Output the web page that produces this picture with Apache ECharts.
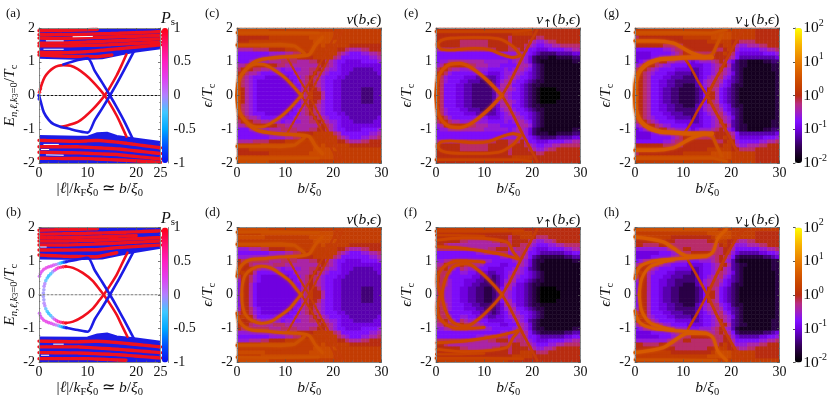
<!DOCTYPE html>
<html>
<head>
<meta charset="utf-8">
<title>vortex bound states</title>
<script src="https://cdn.jsdelivr.net/npm/echarts@6/dist/echarts.min.js"></script>
<style>html,body{margin:0;padding:0;background:#fff}#main{width:830px;height:399px}</style>
</head>
<body>
<div id="main"></div>
<script>
// tick labels
var psTicks = [-1, -0.5, 0, 0.5, 1];
var nuTicks = [-2, -1, 0, 1, 2];

// one char per cell = log10(nu) level, see cellLevels. rows run from eps=2 down to eps=0, mirrored below
// 36 cells per row, b from 0 to 30, grouped per 5 units of b
var cellLevels = '0123456789abcdefghijk';
var nuC = [
 'cccccc ccbbbb bbbbbb bbbbbb bbbbbb bbbbbb',
 'cccccc cccccc cccccc cccccc bbbbbb bbbbbb',
 'aaaaaa aabbbb bbbbbb cccccc bbbbbb bbbbbb',
 'aaabbb bbbbbb bbbbbb bccccc cbbbbb bbbbbb',
 'bbbbbb cccccc ccbbbb bbbcbb bbbbaa aaaaaa',
 '888899 99aaaa bbbbbb bbbbbb baa988 899aaa',
 '666666 667777 8899aa bbbbbb b98766 677889',
 '666666 666777 899aaa abbbbb 986666 666778',
 '666777 778889 999888 99aa98 766555 566667',
 '889aaa aaaa99 888888 889a98 765555 555555',
 '9aaa99 887776 777788 99a987 765554 444455',
 'aa9887 666666 667888 9a9876 665544 444445',
 'a98766 655555 566789 a98766 655444 444444',
 'a98765 555555 556789 a98766 554444 444444',
 'b98765 555555 556689 a98766 554444 444444',
 'ba8765 555555 555689 aa9766 554444 433344',
 'ca8765 555555 555589 baa866 554444 433344'
];
var nuD = [
 'cccccc ccbbbb bbbbbb bbbbbb bbbbbb bbbbbb',
 'bbbbbb cccccc cccccc cccccc bbbbbb bbbbbb',
 'cccccc cbbbbb bbbbbb cccccc bbbbbb bbbbbb',
 'bbbbbb bbbbbb bbbbbb bccccc cbbbbb bbbbbb',
 'bbbbbb cccccc ccbbbb bbbcbb bbbbaa aaaaaa',
 '777888 99aaaa bbbbbb bbbbbb baa988 899aaa',
 '666666 667777 8899aa bbbbbb b98766 677889',
 '777777 777777 899aaa abbbbb 986666 666778',
 'a99999 998889 999888 99aa98 766555 566667',
 'aaa988 888999 888888 889a98 765555 555555',
 'baaa98 777776 777788 99a987 765554 444455',
 'abaa86 666666 667888 9a9876 665544 444445',
 '9aa976 555555 566789 a98766 655444 444444',
 '7aa976 555555 556789 a98766 554444 444444',
 '6aa865 555555 556689 a98766 554444 444444',
 '6aa865 555555 555689 aa9766 554444 433344',
 '6aa865 555555 555589 baa866 554444 433344'
];
var nuE = [
 'aaaaaa aaaaaa aaaaaa aaaaaa aaaaaa aaaaaa',
 'aaaaaa aaaaaa aaaaaa abbbbb aaaaaa aaaaaa',
 'aaaaaa aaaaaa aaaaaa 9aaaaa a99aaa aaaaaa',
 'aaaaaa 999999 9aaaaa 9aaaa9 877899 aaaaaa',
 'aaaaaa 999999 9aaaaa 9aaa98 766778 899999',
 '888888 999999 999aaa 999a86 655566 667788',
 '666666 666666 666677 778876 543333 444455',
 '666666 666666 666666 678875 322211 222233',
 '677888 888888 777777 678875 321111 111122',
 '78aaaa aa9988 877766 667887 432111 111111',
 '9aa988 777777 766667 678876 432111 111111',
 'aa9766 666666 655567 788765 432111 111111',
 'a97666 655544 444567 887665 432111 111111',
 'a97666 554443 334578 876654 322111 111111',
 'a96665 544333 334588 866543 221111 111111',
 'b96665 544333 334688 876543 210000 111111',
 'b96665 544333 334788 766543 210000 011111'
];
var nuF = [
 'bbbbbb bbbbbb bbbbbb aaaaaa aaaaaa aaaaaa',
 'aaaaaa aaaaaa aaaaaa abbbbb aaaaaa aaaaaa',
 'aaaaaa aaaaaa aaaaaa 9aabbb a999aa aaaaaa',
 'aaaaaa 998888 8899aa 9aaaa9 877889 aaaaaa',
 'aa9888 888888 888899 9aa998 766677 889999',
 '999999 998888 899aaa 889987 655566 667788',
 '666666 666677 889999 778986 654444 445566',
 '666666 666666 666677 678986 432222 223344',
 '778899 997777 776666 678875 322111 111122',
 '88a999 a99887 666655 667875 321111 111111',
 '99a876 987766 655556 678764 321111 111111',
 'a99766 776655 544556 788765 432111 111111',
 'a98666 666554 443456 887665 432111 111111',
 'a98766 655544 333457 886654 322111 111111',
 '998766 655443 333458 875543 221111 111111',
 '897766 554433 223468 865543 210000 111111',
 '897766 554433 223478 765543 210000 011111'
];
var nuG = [
 'bbbbbb bbbbbb bbbbbb bbbbbb bbbbbb aaaaaa',
 'cccccc cccccc cccccc cccccc bbbbbb aaaaaa',
 '9aaaaa aaaaaa bbbbbb bccccc bbbbbb aaaaaa',
 'bbbbbb bbaaaa aaaaaa bbbbbb aa9999 aaaaaa',
 'aaaaaa a99999 aaaaaa aaaabb a87788 899aaa',
 '666666 677899 aaaaaa aa99ab a76666 677889',
 '555566 666789 aa9999 99aaba 965555 556667',
 '555566 777899 a99999 9aaaa9 864444 444445',
 '567899 aa8877 765677 789a97 532211 112233',
 '78aaa9 877666 655556 6789a8 432211 111122',
 '9aa987 666655 554456 678a87 432111 111122',
 'aa9876 665544 443456 678987 532111 111112',
 'aa9866 655444 333456 788976 432111 111112',
 'aa9866 554433 333457 889865 432111 111112',
 'ba9866 554433 222457 899765 322111 111112',
 'ba9866 544332 222346 a98654 321111 111112',
 'ca9866 544332 222346 aa8654 321111 111112'
];
var nuH = [
 'bbbbbb bbbbbb bbbbbb bbbbbb bbbbbb bbbbbb',
 'bbbbbb bbbbbb bbbbbb cccccc bbbbbb aaaaaa',
 'bbbbbb bbbaaa aaaaaa abcccc bbbbbb aaaaaa',
 'aaaaaa aaaa99 999999 aaabba a98899 aaaaaa',
 'aa9999 aa9999 999999 999aba 877788 899aaa',
 '777777 778899 aa9999 9999aa 866666 677889',
 '555555 666778 99aaaa a999a9 754444 455667',
 '555566 666789 aa9988 889a98 632222 223345',
 '678899 aa8877 766677 789a87 421111 111122',
 '89aa99 877666 655556 6789a8 432211 111122',
 'aaa987 666655 554456 678a87 432111 111122',
 'aba876 665544 443456 678987 532111 111112',
 '9aa866 655444 333456 788976 432111 111112',
 '7aa866 554433 333457 889865 432111 111112',
 '6aa866 554433 222457 899765 322111 111112',
 '6aa866 544332 222346 a98654 321111 111112',
 '6aa866 544332 222346 aa8654 321111 111112'
];

// ridges of the maps, [b, eps], each also drawn mirrored in eps
var cArc = [[0,0],[.25,.35],[.9,.6],[2.4,.85],[3.5,.98],[4.6,1.05],[6.5,1.1],[9.4,1.14],[13,1.17],[15,1.22],[16.3,1.5],[17.7,1.72]];
var cLobe = [[2.5,.86],[4,.93],[5.5,.92],[7.5,.78],[9.5,.58],[11,.38],[12.5,.14],[13.4,0]];
var cDiagA = [[13.4,0],[15,-.38],[16.5,-.75],[18,-1.15],[19.5,-1.55],[21,-1.95]];
var cDiagB = [[10.5,1.1],[12,.72],[13.5,.35],[15,0],[16.5,-.42],[18.5,-.95],[20.5,-1.5],[22,-1.95]];
var cBandTop = [[0,1.86],[8,1.87],[17,1.85]];
var cBandMid = [[0,1.5],[5,1.5],[9,1.52],[12,1.47],[14,1.25]];
var dArcOuter = [[0,.55],[.5,.78],[1.5,.95],[3,1.05],[6,1.08],[9,1.12],[13,1.15],[15,1.22],[16.3,1.5],[17.7,1.72]];
var dArcInner = [[1,0],[1.1,.28],[1.7,.58],[3,.76],[5,.85],[7,.8],[9,.62],[11,.4],[12.5,.14],[13.3,0]];
var eLobe = [[0,0],[.2,.35],[.7,.62],[1.6,.8],[3,.93],[5,.95],[7,.85],[9,.65],[11,.4],[12.5,.18],[13.7,0]];
var eDiag = [[13.7,0],[15.2,-.35],[16.5,-.72],[18,-1.15],[19.5,-1.55],[21,-1.95]];
var eBandTop = [[0,1.9],[10,1.9],[17,1.9],[20,1.95]];
var eLensUp = [[.3,1.5],[1,1.63],[3,1.7],[8,1.72],[13,1.68],[16,1.45],[17.5,1.2]];
var eLensLow = [[.3,1.5],[1,1.38],[3,1.35],[8,1.4],[11,1.36],[14,1.2],[16,1.13],[17.5,1.18]];
var fOuter = [[.9,0],[.3,.4],[.6,.65],[1.6,.83],[3,.95],[4.3,1],[7,1],[10,.97]];
var fInner = [[1.2,0],[2,.48],[3.6,.83],[6.4,.93],[9.2,.68],[12,.29],[13.7,0]];
var fBandTop = [[0,1.89],[10,1.89],[18,1.9]];
var fBandSecond = [[0,1.77],[5,1.77],[10,1.75]];
var fLensUp = [[.2,1.62],[5.7,1.69],[14.7,1.57],[16,1.28],[17.1,1.08]];
var fLensLow = [[.2,1.43],[5.7,1.38],[12.7,1.23],[15.5,1.13],[17.1,1.06]];
var gArc = [[0,0],[.2,.4],[.8,.68],[2,.88],[3.5,1],[5.5,1.08],[8,1.1],[10,1.12],[13,1.13],[16,1.13]];
var gLobe = [[10.3,1.1],[11.5,.85],[13,.45],[15,0]];
var gDiag = [[15,0],[16.5,-.42],[18,-.8],[19.5,-1.2],[21,-1.6],[22.5,-1.95]];
var gBandTop = [[0,1.87],[10,1.87],[16,1.85],[19,1.95]];
var gBandMid = [[0,1.62],[4,1.62],[8,1.55],[10,1.4],[12,1.25],[14.5,1.13]];
var gRise = [[14,1.13],[16,1.22],[17,1.5],[18,1.8]];
var hOuter = [[0,.48],[1,.83],[3.8,1],[8,1.06],[14.8,1.15],[16.2,1.28],[17.2,1.67],[19,1.95]];
var hInner = [[.9,0],[1.4,.48],[3.1,.83],[5.9,.98],[8,1.05]];
var hLobe = [[11,1.02],[12.8,.58],[15,0]];
var hDiag = [[15,0],[16.9,-.58],[19,-1.18],[21,-1.67],[22.4,-1.92]];
var hBandTop = [[0,1.93],[7,1.93],[17,1.95]];
var hBandMid = [[0,1.72],[5.9,1.57],[8,1.38],[11,1.15],[14.8,1.15]];

// band edges of the left panels, [l, E]
var aEdgeUp = [[0,1.12],[9,1.08],[13,1.1],[17,1.22],[20,1.3],[25,1.4]];
var aEdgeLow = [[0,-1.2],[8,-1.22],[10,-1.22],[12,-1.12],[14,-1.1],[16,-1.2],[20,-1.28],[25,-1.38]];
var bEdgeUp = [[0,1.08],[9,1.06],[13,1.08],[17,1.2],[20,1.28],[25,1.4]];
var bEdgeLow = [[0,-1.27],[8,-1.28],[10,-1.27],[12,-1.18],[14,-1.15],[16,-1.24],[20,-1.3],[25,-1.4]];

// red stripes in the bands
var aStripes = [
 [[0,1.92],[6,1.93],[12,1.96]],
 [[0,1.8],[8,1.81],[16,1.84],[25,1.89]],
 [[0,1.7],[5,1.69],[12,1.72],[25,1.78]],
 [[0,1.55],[6,1.56],[14,1.61],[25,1.68]],
 [[0,1.47],[6,1.47],[14,1.5],[25,1.58]],
 [[0,1.28],[6,1.27],[10,1.3],[16,1.38],[25,1.5]],
 [[0,1.2],[6,1.16],[12,1.15],[15,1.2]],
 [[0,-1.33],[8,-1.36],[12,-1.33],[16,-1.38],[25,-1.55]],
 [[0,-1.52],[8,-1.52],[16,-1.58],[25,-1.72]],
 [[0,-1.68],[8,-1.7],[16,-1.75],[25,-1.88]],
 [[0,-1.86],[10,-1.87],[18,-1.92],[25,-1.98]]
];
var bStripes = [
 [[0,1.92],[6,1.94],[12,1.96]],
 [[0,1.8],[8,1.82],[16,1.85],[25,1.9]],
 [[0,1.7],[5,1.7],[12,1.72],[20,1.76]],
 [[0,1.6],[6,1.6],[14,1.63],[25,1.7]],
 [[0,1.48],[6,1.48],[14,1.52],[25,1.6]],
 [[0,1.33],[6,1.33],[12,1.34],[16,1.4],[25,1.48]],
 [[0,1.18],[6,1.14],[12,1.13],[16,1.25]],
 [[0,-1.38],[8,-1.4],[12,-1.38],[16,-1.42],[25,-1.55]],
 [[0,-1.55],[8,-1.55],[16,-1.62],[25,-1.72]],
 [[0,-1.72],[8,-1.73],[16,-1.78],[25,-1.88]],
 [[0,-1.9],[10,-1.9],[18,-1.95]]
];
var aSpecks = [
 [[1.5,1.62],[5,1.62]], [[1,1.37],[5,1.37]], [[7,1.74],[11,1.75]],
 [[1,-1.45],[4,-1.45]], [[1.5,-1.76],[5,-1.77]], [[.5,-1.6],[2,-1.6]]
];
var bSpecks = [[[.5,-1.8],[2,-1.8]], [[.3,1.42],[1.5,1.42]], [[3,-1.47],[5,-1.47]]];

// states in the gap, [l, E]
var aRedUp = [[.2,.15],[.6,.35],[1.2,.55],[2,.7],[3,.82],[4,.88],[5,.9],[6.5,.88],[8,.78],[9.5,.62],[11,.42],[12.5,.18],[13.5,0],[14.5,-.22],[16,-.6],[17,-.9],[18,-1.22]];
var aRedLow = [[4.5,-.93],[6,-.88],[8,-.78],[9.5,-.62],[11,-.42],[12.5,-.18],[13.5,0],[14.5,.22],[16,.6],[17,.9],[18,1.22]];
var aBlueUp = [[5,.92],[8,1.05],[10,1.1],[11.5,.72],[13,.38],[14.6,0],[16,-.35],[17.5,-.75],[19.5,-1.35]];
var aBlueLow = [[0,0],[.3,-.15],[1,-.5],[2,-.72],[3,-.85],[4.5,-.93],[6,-.98],[8,-1.05],[10,-1.1],[11.5,-.72],[13,-.38],[14.6,0],[16,.35],[17.5,.75],[19.5,1.3]];
var bRed = [[5.5,.84],[7,.8],[9,.65],[11,.42],[12.5,.15],[13.3,0],[14.5,-.25],[16,-.6],[17,-.9],[18.2,-1.25]];
var bBlue = [[5.6,.98],[8,1.05],[10,1.1],[11.5,.72],[13,.38],[14.6,0],[16,-.35],[17.5,-.75],[19.5,-1.3]];
// [l, E, Ps]
var aDots = [[0,0,-1],[.1,.1,1],[.3,.2,1],[.05,-.1,-1]];
var bOuter = [[.1,.55,.15],[.3,.63,.2],[.6,.7,.25],[1,.76,.3],[1.5,.8,.3],[2,.83,.3],[2.5,.85,.25],[3,.88,.2],[3.5,.9,.1],[4,.92,-.1],[4.4,.94,-.3],[4.8,.96,-.5],[5.2,.97,-.8],[5.6,.98,-.95]];
var bInner = [[.9,.05,-.05],[1,.15,-.05],[1.05,.25,0],[1.2,.33,0],[1.4,.42,-.2],[1.7,.5,-.3],[2,.56,-.35],[2.4,.62,-.3],[2.8,.68,-.1],[3.2,.73,.2],[3.6,.77,.4],[4,.8,.5],[4.5,.82,.7],[5,.83,.9],[5.5,.84,1]];

var RED = '#f0101e', BLUE = '#1c1ce6', SERIF = 'Liberation Serif';
var nuColors = ['#000000','#1a0028','#35005a','#5200a0','#7000e0','#8010ff','#a020c0','#b82c80','#b82c10','#c44000','#d05000','#dc6400','#e87c00','#f09800','#f8b400','#fcd800','#ffff00'];
var psColors = ['#0c0cf0','#0050ff','#00a8ff','#40c8ff','#b080ff','#e040f0','#ff20c0','#ff1070','#ff0010'];

function fnt(size, extra){
	return Object.assign({fontFamily:SERIF,fontSize:size,fontWeight:'normal',lineHeight:20,color:'#111'}, extra||{});
}
var rich = {
	i:fnt(15.5,{fontStyle:'italic'}),
	n:fnt(15.5),
	s:fnt(10.5,{fontStyle:'italic',verticalAlign:'bottom'}),
	r:fnt(10.5,{verticalAlign:'bottom'}),
	t:fnt(8,{verticalAlign:'bottom'}),
	u:fnt(10,{verticalAlign:'top'}),
	a:fnt(11,{fontFamily:'DejaVu Sans',verticalAlign:'bottom'})
};

var grids = [], xAxes = [], yAxes = [], series = [], titles = [], visualMaps = [];
var heatIdx = [];

function mirrored(pts){
	return pts.map(function(p){ return [p[0], -p[1]]; });
}

function decodeRows(rows){
	// 17 rows down to eps=0, then the same rows again below
	var data = [];
	var n = rows.length * 2;
	rows.forEach(function(row, u){
		var cells = row.replace(/ /g,'');
		for(var i=0;i<cells.length;i++){
			var v = -2 + cellLevels.indexOf(cells.charAt(i)) * 0.2;
			data.push([i, n-1-u, v]);
			data.push([i, u, v]);
		}
	});
	return data;
}

function indexList(n){
	var a = [];
	for(var i=0;i<n;i++) a.push(i);
	return a;
}

// bottom/left axes with labels, top/right axes with ticks only
function addFrame(g, xMax, xInt, xName, yName, yNameGap){
	var line = {show:true,onZero:false,lineStyle:{color:'#8a8a8a',width:1}};
	var tick = {show:true,inside:true,length:2.5,lineStyle:{color:'#555',width:.8}};
	var minor = {show:true,splitNumber:5,length:1.3,lineStyle:{color:'#666',width:.7}};
	var lab = {fontFamily:SERIF,fontSize:14,color:'#111',margin:3};
	var x = {type:'value',gridIndex:g,min:0,max:xMax,interval:xInt,z:5,splitLine:{show:false},axisLine:line,axisTick:tick,minorTick:minor};
	var y = {type:'value',gridIndex:g,min:-2,max:2,interval:1,z:5,splitLine:{show:false},axisLine:line,axisTick:tick,minorTick:minor};
	var xi = xAxes.length, yi = yAxes.length;
	xAxes.push(Object.assign({},x,{position:'bottom',axisLabel:lab,name:xName,nameLocation:'middle',nameGap:16,nameTextStyle:{rich:rich}}));
	xAxes.push(Object.assign({},x,{position:'top',axisLabel:{show:false}}));
	yAxes.push(Object.assign({},y,{position:'left',axisLabel:Object.assign({},lab,{margin:4}),name:yName,nameLocation:'middle',nameRotate:90,nameGap:yNameGap,nameTextStyle:{rich:rich}}));
	yAxes.push(Object.assign({},y,{position:'right',axisLabel:{show:false}}));
	return {x:xi,y:yi};
}

function addLine(ax, pts, color, width, extra){
	var s = {
		type:'line',xAxisIndex:ax.x,yAxisIndex:ax.y,data:pts,showSymbol:false,silent:true,clip:true,
		lineStyle:{color:color,width:width,cap:'round',join:'round'}
	};
	if(extra && extra.smooth) s.smooth = 0.3;
	if(extra && extra.dash) s.lineStyle.type = extra.dash;
	if(extra && extra.glow){ s.lineStyle.shadowBlur = extra.glow; s.lineStyle.shadowColor = color; }
	series.push(s);
}

function addRidge(ax, pts, color, width, extra){
	addLine(ax, pts, color, width, extra);
	addLine(ax, mirrored(pts), color, width, extra);
}

function addLabel(x, y, text){
	titles.push({left:x,top:y,padding:0,text:text,textStyle:{fontFamily:SERIF,fontSize:13,fontWeight:'normal',color:'#111'}});
}

function addRightTitle(x, y, text){
	titles.push({left:x,top:y,padding:0,textAlign:'right',text:text,textStyle:{fontFamily:SERIF,fontSize:14,fontWeight:'normal',color:'#111',rich:rich}});
}

function addMap(left, top, rows, label, labelX, titleText){
	var g = grids.length;
	grids.push({left:left,top:top,width:144.5,height:135});
	var ncol = rows[0].replace(/ /g,'').length, nrow = rows.length*2;
	var cx = xAxes.length, cy = yAxes.length;
	xAxes.push({type:'category',gridIndex:g,show:false,data:indexList(ncol)});
	yAxes.push({type:'category',gridIndex:g,show:false,data:indexList(nrow)});
	heatIdx.push(series.length);
	series.push({type:'heatmap',xAxisIndex:cx,yAxisIndex:cy,data:decodeRows(rows),silent:true,progressive:0,itemStyle:{borderWidth:0}});
	var ax = addFrame(g, 30, 10, '{i|b}{n|/}{i|ξ}{r|0}', '{i|ϵ}{n|/}{i|T}{r|c}', 17);
	addLabel(labelX, top-21, label);
	addRightTitle(left+144.5, top-18, titleText);
	return ax;
}

function addBands(top, edgeUp, edgeLow, stripes, specks, redCurves, blueCurves, zeroColor, label){
	var g = grids.length;
	grids.push({left:39,top:top,width:121.5,height:135});
	var ax = addFrame(g, 25, 10, '{n|\u007c}{i|ℓ}{n|\u007c/}{i|k}{r|F}{i|ξ}{r|0}{n| ≃ }{i|b}{n|/}{i|ξ}{r|0}', '{i|E}{s|n,ℓ,k}{t|3}{r|=0}{n|/}{i|T}{r|c}', 17);
	// blue filled bands, then the red stripes on top
	series.push({type:'line',xAxisIndex:ax.x,yAxisIndex:ax.y,data:edgeUp,showSymbol:false,silent:true,lineStyle:{color:BLUE,width:2},areaStyle:{origin:'end',color:BLUE,opacity:1}});
	series.push({type:'line',xAxisIndex:ax.x,yAxisIndex:ax.y,data:edgeLow,showSymbol:false,silent:true,lineStyle:{color:BLUE,width:2},areaStyle:{origin:'start',color:BLUE,opacity:1}});
	stripes.forEach(function(p){ addLine(ax, p, RED, 3.4, {dash:[7,1]}); });
	specks.forEach(function(p){ addLine(ax, p, '#ffffff', 1); });
	addLine(ax, [[0,0],[25,0]], zeroColor, 1, {dash:[2,2]});
	redCurves.forEach(function(p){ addLine(ax, p, RED, 2.6, {smooth:true}); });
	blueCurves.forEach(function(p){ addLine(ax, p, BLUE, 2.6, {smooth:true}); });
	addLabel(6, top-21, label);
	// Ps colour bar
	var gc = grids.length;
	grids.push({left:168,top:top,width:0.5,height:135});
	xAxes.push({type:'value',gridIndex:gc,show:false,min:0,max:1});
	yAxes.push({type:'value',gridIndex:gc,position:'right',min:psTicks[0],max:psTicks[psTicks.length-1],interval:.5,z:5,splitLine:{show:false},
		axisLine:{show:true,lineStyle:{color:'#8a8a8a'}},axisTick:{show:false},
		axisLabel:{fontFamily:SERIF,fontSize:14,color:'#111',margin:5}});
	titles.push({left:161,top:top-18,padding:0,text:'{i|P}{r|s}',textStyle:{rich:{i:fnt(16,{fontStyle:'italic',lineHeight:18}),r:fnt(11,{lineHeight:18,verticalAlign:'bottom'})}}});
	return ax;
}

function addBar(idx, dim, mn, mx, left, top, w, colors){
	visualMaps.push({type:'continuous',seriesIndex:idx,dimension:dim,min:mn,max:mx,left:left,top:top,padding:0,itemWidth:w,itemHeight:135,align:'left',calculable:false,hoverLink:false,realtime:false,z:8,inRange:{color:colors}});
}

function addDots(ax, pts, cbarTop){
	var idx = series.length;
	series.push({type:'scatter',xAxisIndex:ax.x,yAxisIndex:ax.y,data:pts,symbolSize:3.6,silent:true});
	addBar(idx, 2, -1, 1, 162, cbarTop, 6, psColors);
}

// panels (a), (b)
var axA = addBands(28, aEdgeUp, aEdgeLow, aStripes, aSpecks, [aRedUp, aRedLow], [aBlueUp, aBlueLow], '#111', '(a)');
addDots(axA, aDots, 28);
var axB = addBands(227.5, bEdgeUp, bEdgeLow, bStripes, bSpecks, [bRed, mirrored(bRed)], [bBlue, mirrored(bBlue)], '#777', '(b)');
addDots(axB, bOuter.concat(bInner).concat(bOuter.map(function(p){return [p[0],-p[1],p[2]];})).concat(bInner.map(function(p){return [p[0],-p[1],p[2]];})), 227.5);

// colour maps
var T_NU = '{i|ν}{n|(}{i|b}{n|,}{i|ϵ}{n|)}', T_UP = '{i|ν}{a|↑}{n|(}{i|b}{n|,}{i|ϵ}{n|)}', T_DN = '{i|ν}{a|↓}{n|(}{i|b}{n|,}{i|ϵ}{n|)}';
var RIDGE = '#cf5200', BAND = '#cc5000', BEAD = '#c43c08', BRIGHT = '#d65a00';

var axC = addMap(237, 28, nuC, '(c)', 205, T_NU);
addRidge(axC, cBandTop, BAND, 2.5, {glow:2});
addRidge(axC, cBandMid, BAND, 3, {glow:3});
addRidge(axC, cDiagA, BEAD, 2.2, {dash:[3,2]});
addRidge(axC, cDiagB, BEAD, 2.2, {dash:[3,2]});
addRidge(axC, cArc, RIDGE, 3.5, {smooth:true,glow:3});
addRidge(axC, cLobe, RIDGE, 2.8, {smooth:true,glow:3});

var axD = addMap(237, 227.5, nuD, '(d)', 205, T_NU);
addRidge(axD, cBandTop, BAND, 2.5, {glow:2});
addRidge(axD, cBandMid, BAND, 3, {glow:3});
addRidge(axD, cDiagA, BEAD, 2.2, {dash:[3,2]});
addRidge(axD, cDiagB, BEAD, 2.2, {dash:[3,2]});
addRidge(axD, dArcOuter, RIDGE, 3, {smooth:true,glow:3});
addRidge(axD, dArcInner, RIDGE, 2.8, {smooth:true,glow:3});

var axE = addMap(436, 28, nuE, '(e)', 404, T_UP);
addRidge(axE, eBandTop, '#c84200', 2.5, {glow:2});
addRidge(axE, eLensUp, '#cc4600', 2.6, {smooth:true,glow:2});
addRidge(axE, eLensLow, '#cc4600', 2.6, {smooth:true,glow:2});
addRidge(axE, eDiag, BEAD, 2.8, {dash:[3,1.5]});
addRidge(axE, eLobe, '#d24c00', 3.2, {smooth:true,glow:3});

var axF = addMap(436, 227.5, nuF, '(f)', 404, T_UP);
addRidge(axF, fBandTop, '#c84200', 2.5, {glow:2});
addRidge(axF, fBandSecond, '#c84200', 2, {glow:2});
addRidge(axF, fLensUp, '#cc4600', 2.6, {smooth:true,glow:2});
addRidge(axF, fLensLow, '#cc4600', 2.6, {smooth:true,glow:2});
addRidge(axF, eDiag, BEAD, 2.8, {dash:[3,1.5]});
addRidge(axF, fOuter, '#cc4600', 2.8, {smooth:true,glow:3});
addRidge(axF, fInner, '#cc4600', 2.8, {smooth:true,glow:3});

var axG = addMap(635, 28, nuG, '(g)', 604, T_DN);
addRidge(axG, gBandTop, BAND, 2.5, {glow:2});
addRidge(axG, gBandMid, BRIGHT, 3.4, {smooth:true,glow:3});
addRidge(axG, gRise, BAND, 3, {smooth:true,glow:2});
addRidge(axG, gLobe, BEAD, 2.6, {smooth:true});
addRidge(axG, gDiag, BEAD, 3, {dash:[3,1.5]});
addRidge(axG, gArc, BRIGHT, 4.2, {smooth:true,glow:3});

var axH = addMap(635, 227.5, nuH, '(h)', 604, T_DN);
addRidge(axH, hBandTop, BAND, 2.5, {glow:2});
addRidge(axH, hBandMid, BRIGHT, 3.4, {smooth:true,glow:3});
addRidge(axH, hLobe, BEAD, 2.6, {smooth:true});
addRidge(axH, hDiag, BEAD, 3, {dash:[3,1.5]});
addRidge(axH, hOuter, BRIGHT, 3, {smooth:true,glow:3});
addRidge(axH, hInner, BRIGHT, 3, {smooth:true,glow:3});

// nu colour bars, the tick axis is a grid of its own
[28, 227.5].forEach(function(top){
	var gc = grids.length;
	grids.push({left:795,top:top,width:7,height:135});
	xAxes.push({type:'value',gridIndex:gc,show:false,min:0,max:1});
	yAxes.push({type:'value',gridIndex:gc,position:'right',min:nuTicks[0],max:nuTicks[nuTicks.length-1],interval:1,z:5,splitLine:{show:false},
		axisLine:{show:true,lineStyle:{color:'#8a8a8a'}},axisTick:{show:true,inside:true,length:2,lineStyle:{color:'#555'}},
		axisLabel:{fontFamily:SERIF,fontSize:14,color:'#111',margin:5,formatter:function(v){ return '{n|10}{u|'+v+'}'; },rich:rich}});
	addBar(heatIdx, 2, -2, 2, 795, top, 7, nuColors);
});

var myChart = echarts.init(document.getElementById('main'), null, {renderer:'canvas'});
myChart.setOption({
	animation:false,
	backgroundColor:'#fff',
	textStyle:{fontFamily:SERIF},
	title:titles,
	grid:grids,
	xAxis:xAxes,
	yAxis:yAxes,
	visualMap:visualMaps,
	series:series
});
</script>
</body>
</html>
